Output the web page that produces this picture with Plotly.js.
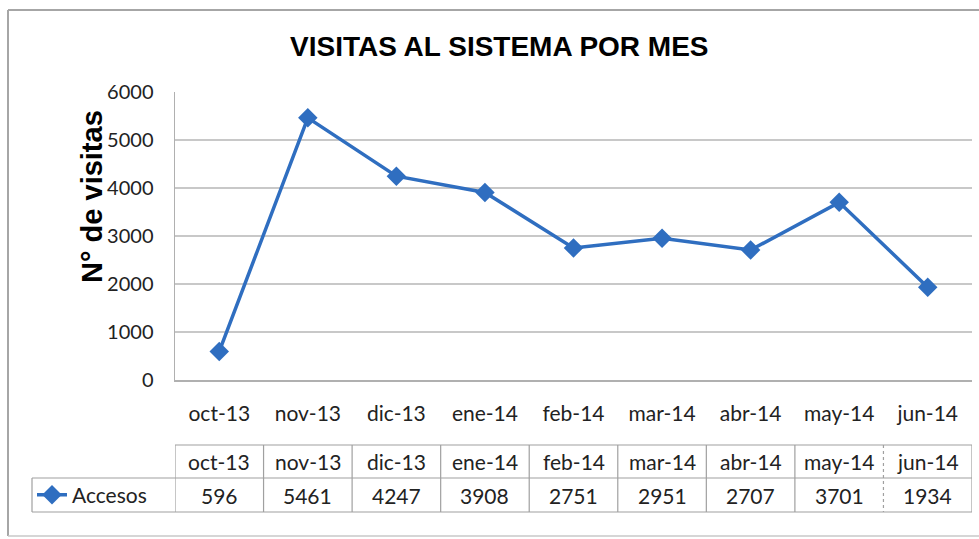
<!DOCTYPE html>
<html><head><meta charset="utf-8">
<script src="https://cdn.plot.ly/plotly-3.0.1.min.js"></script>
<style>html,body{margin:0;padding:0;background:#fff}#c{width:979px;height:539px}</style>
</head><body><div id="c"></div>
<script>
const months = ["oct-13","nov-13","dic-13","ene-14","feb-14","mar-14","abr-14","may-14","jun-14"];
const accesos = [596,5461,4247,3908,2751,2951,2707,3701,1934];
const seriesName = "Accesos";
const yTicks = [0,1000,2000,3000,4000,5000,6000];

const blue = "#2F6EC0";
const grid = "#C8C8C8";
const tfont = "Lato, 'Open Sans', sans-serif";

// pixel helpers for layout positions (plot area: x 175..972, y 92..380)
const PL=175, PR=972, PT=92, PB=380;
const px = x => (x-PL)/(PR-PL);
const py = y => (PB-y)/(PB-PT);

const shapes = [];
const annotations = [];
// outer frame
shapes.push({type:"line",xref:"paper",yref:"paper",x0:px(8),x1:px(979),y0:py(10),y1:py(10),line:{color:"#A6A6A6",width:2}});
shapes.push({type:"line",xref:"paper",yref:"paper",x0:px(8),x1:px(8),y0:py(10),y1:py(536),line:{color:"#A6A6A6",width:2}});
shapes.push({type:"line",xref:"paper",yref:"paper",x0:px(8),x1:px(979),y0:py(536),y1:py(536),line:{color:"#C8C8C8",width:1.5}});

// data table
const yTop=py(445), yMid=py(478), yBot=py(512);
const tl = {color:"#A0A0A0",width:1.2};
shapes.push({type:"line",xref:"x",yref:"paper",x0:-0.5,x1:months.length-0.5,y0:yTop,y1:yTop,line:tl});
shapes.push({type:"line",xref:"paper",yref:"paper",x0:px(32),x1:1,y0:yMid,y1:yMid,line:tl});
shapes.push({type:"line",xref:"paper",yref:"paper",x0:px(32),x1:1,y0:yBot,y1:yBot,line:tl});
shapes.push({type:"line",xref:"paper",yref:"paper",x0:px(32),x1:px(32),y0:yMid,y1:yBot,line:tl});
for(let i=0;i<=months.length;i++){
  shapes.push({type:"line",xref:"x",yref:"paper",x0:i-0.5,x1:i-0.5,y0:yTop,y1:yBot,
    line:{color:"#A0A0A0",width:1.2,dash:(i===months.length-1?"dot":"solid")}});
}
months.forEach((m,i)=>{
  annotations.push({xref:"x",yref:"paper",x:i,y:py(461),xanchor:"center",yanchor:"middle",text:m,showarrow:false,font:{family:tfont,size:21,color:"#222"}});
  annotations.push({xref:"x",yref:"paper",x:i,y:py(495),xanchor:"center",yanchor:"middle",text:String(accesos[i]),showarrow:false,font:{family:tfont,size:21,color:"#222"}});
});
// y axis title
annotations.push({xref:"paper",yref:"paper",x:px(92),y:py(197),xanchor:"center",yanchor:"middle",text:"N° de visitas",textangle:-90,showarrow:false,
  font:{family:"'Liberation Sans', Arial, sans-serif",size:29,color:"#000",weight:"bold"}});

const trace = {
  x: months, y: accesos, type:"scatter", mode:"lines+markers", name: seriesName,
  line:{color:blue,width:3.5}, marker:{symbol:"diamond",size:15,color:blue}, cliponaxis:false
};

const layout = {
  width:979,height:539,
  margin:{l:PL,r:979-PR,t:PT,b:539-PB},
  paper_bgcolor:"#fff",plot_bgcolor:"#fff",
  title:{text:"VISITAS AL SISTEMA POR MES",x:0.51,xanchor:"center",y:0.915,yanchor:"middle",
    font:{family:"'Liberation Sans', Arial, sans-serif",size:28,color:"#000",weight:"bold"}},
  xaxis:{type:"category",range:[-0.5,months.length-0.5],showgrid:false,zeroline:false,
    showline:true,linecolor:"#B0B0B0",linewidth:1.5,
    ticks:"outside",ticklen:14,tickcolor:"rgba(0,0,0,0)",
    tickfont:{family:tfont,size:21,color:"#222"},fixedrange:true},
  yaxis:{range:[0,6000],tickvals:yTicks,ticktext:yTicks.map(String),showgrid:true,gridcolor:grid,gridwidth:1.5,
    zeroline:false,showline:true,linecolor:"#B0B0B0",linewidth:1.5,mirror:false,
    ticks:"outside",ticklen:16,tickcolor:"rgba(0,0,0,0)",
    tickfont:{family:tfont,size:20,color:"#222"},fixedrange:true},
  showlegend:true,
  legend:{x:px(32),y:py(495),xanchor:"left",yanchor:"middle",bgcolor:"rgba(0,0,0,0)",
    font:{family:tfont,size:21,color:"#222"},itemwidth:30,tracegroupgap:0},
  shapes:shapes, annotations:annotations
};
Plotly.newPlot("c",[trace],layout,{displayModeBar:false,staticPlot:true});
</script></body></html>
